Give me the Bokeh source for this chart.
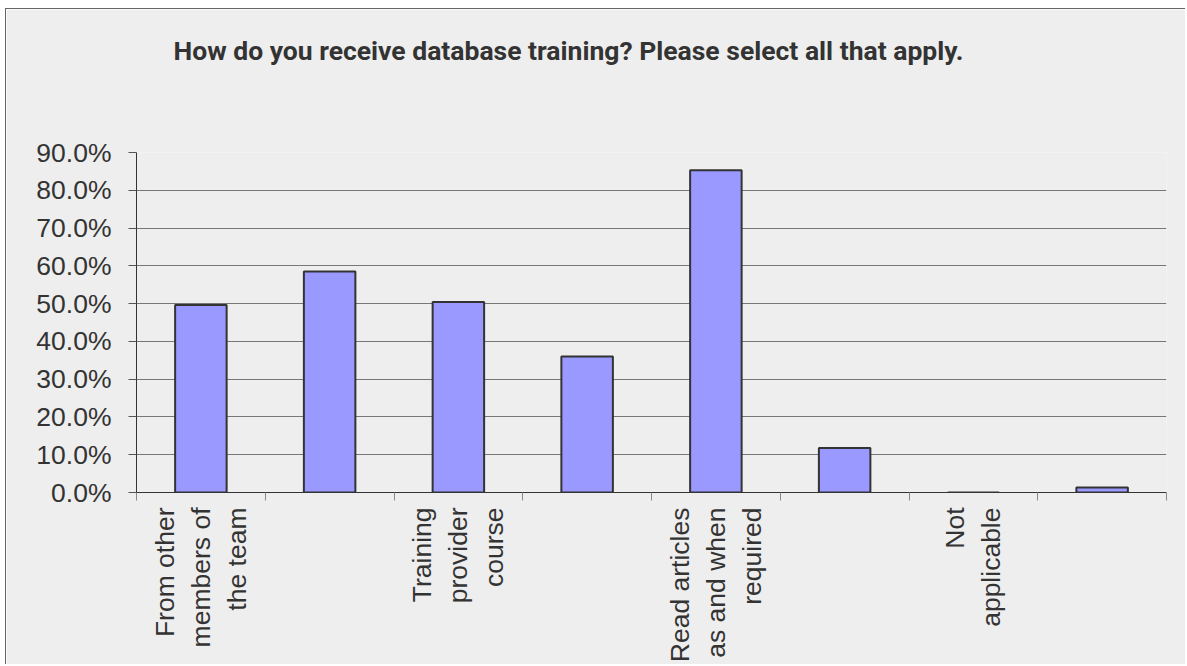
from math import pi
from bokeh.plotting import figure
from bokeh.models import (Range1d, FixedTicker, PrintfTickFormatter, CustomJSTickFormatter,
                          ColumnDataSource, LinearAxis)
from bokeh.embed import file_html
from bokeh.resources import INLINE

title_text = "How do you receive database training? Please select all that apply."
categories = [
    "From other\nmembers of\nthe team",
    "",
    "Training\nprovider\ncourse",
    "",
    "Read articles\nas and when\nrequired",
    "",
    "Not\napplicable",
    "",
]
values = [49.6, 58.5, 50.4, 36.0, 85.3, 11.8, 0.0, 1.3]
y_ticks = [0, 10, 20, 30, 40, 50, 60, 70, 80, 90]

BG = "#eeeeee"
FS = "26.5px"
n = len(categories)
xs = [i + 0.5 for i in range(n)]
src = ColumnDataSource(dict(x=xs, top=values))

p = figure(
    width=1180, height=656,
    x_range=Range1d(0, n), y_range=Range1d(y_ticks[0], y_ticks[-1]),
    output_backend="svg", toolbar_location=None,
    background_fill_color=BG, border_fill_color=BG,
    min_border_left=130, min_border_right=20, min_border_top=143, min_border_bottom=171,
    outline_line_color=None,
)
p.margin = (8, 0, 0, 5)
p.styles = {"border-left": "1px solid #666666", "border-top": "1px solid #666666"}

xa = p.below[0]
ya = p.left[0]

# invisible spacer between the plot area and the title
spacer = LinearAxis(ticker=FixedTicker(ticks=[0]), major_tick_out=82, major_tick_in=0,
                    minor_tick_out=0, minor_tick_in=0, axis_line_color=None,
                    major_tick_line_color=None, minor_tick_line_color=None,
                    formatter=CustomJSTickFormatter(code="return '';"),
                    major_label_standoff=0, major_label_text_font_size="0px")
p.add_layout(spacer, "above")

p.title.text = title_text
p.title.text_font = "Roboto"
p.title.text_font_style = "bold"
p.title.text_font_size = FS
p.title.text_color = "#333333"
p.title.align = "left"
p.title.offset = 37
p.title.standoff = 10

p.vbar(x="x", top="top", bottom=0, width=0.4, source=src,
       fill_color="#9999ff", line_color="#333333", line_width=2)

p.xgrid.grid_line_color = None
p.ygrid.ticker = FixedTicker(ticks=y_ticks)
p.ygrid.grid_line_color = "#777777"
p.ygrid.grid_line_width = 1

ya.ticker = FixedTicker(ticks=y_ticks)
ya.formatter = PrintfTickFormatter(format="%.1f%%")
ya.major_tick_out = 8
ya.major_tick_in = 0
ya.minor_tick_out = 0
ya.minor_tick_in = 0
ya.axis_line_color = "#333333"
ya.major_tick_line_color = "#555555"
ya.major_label_text_font = "Liberation Sans"
ya.major_label_text_font_size = FS
ya.major_label_text_color = "#333333"
ya.major_label_standoff = 17

label_ticks = [xs[i] for i in range(n) if categories[i]]
xa.ticker = FixedTicker(ticks=label_ticks, minor_ticks=list(range(n + 1)))
xa.formatter = CustomJSTickFormatter(args=dict(labels=categories),
                                     code="const i = Math.floor(tick); return labels[i] || '';")
xa.major_tick_out = 0
xa.major_tick_in = 0
xa.minor_tick_out = 8
xa.minor_tick_in = 0
xa.minor_tick_line_color = "#888888"
xa.axis_line_color = "#333333"
xa.major_label_orientation = pi / 2
xa.major_label_text_font = "Liberation Sans"
xa.major_label_text_font_size = FS
xa.major_label_text_color = "#333333"
xa.major_label_standoff = 7

open("out.html", "w").write(file_html(p, INLINE))
